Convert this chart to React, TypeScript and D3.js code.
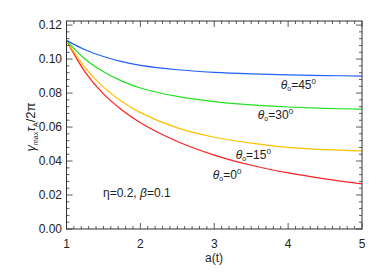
import React from "react";
import * as d3 from "d3";

const aValues = [1, 1.25, 1.5, 1.75, 2, 2.5, 3, 3.5, 4, 4.5, 5];
const theta0 = [0.111, 0.0925, 0.0795, 0.07, 0.0625, 0.0515, 0.0435, 0.0375, 0.033, 0.0295, 0.0265];
const theta15 = [0.111, 0.095, 0.0835, 0.075, 0.0685, 0.0595, 0.054, 0.0505, 0.048, 0.0467, 0.046];
const theta30 = [0.111, 0.1, 0.0925, 0.087, 0.083, 0.078, 0.075, 0.073, 0.0718, 0.071, 0.0705];
const theta45 = [0.111, 0.1055, 0.1015, 0.0985, 0.0963, 0.0937, 0.0922, 0.0913, 0.0907, 0.0903, 0.09];
const xTicks = [1, 2, 3, 4, 5];
const yTicks = [0, 0.02, 0.04, 0.06, 0.08, 0.1, 0.12];
const seriesLabels = ["0", "15", "30", "45"];
const labelAnchors = [2.98, 3.29, 3.59, 3.9];
const labelValues = [0.0294, 0.0412, 0.0647, 0.0824];

const colors = ["#ff2020", "#ffc000", "#22e022", "#2060ff"];

export default function App() {
  const W = 382, H = 273;
  const L = 66.5, R = 362, T = 21, B = 229;
  const x = d3.scaleLinear().domain([1, 5]).range([L, R]);
  const y = d3.scaleLinear().domain([0, 0.1224]).range([B, T]);
  const series = [theta0, theta15, theta30, theta45];
  const line = d3
    .line<number>()
    .x((_, i) => x(aValues[i]))
    .y((d) => y(d))
    .curve(d3.curveCatmullRom.alpha(0.5));

  const xMinor = d3.range(1, 5.0001, 0.1);
  const yMinor = d3.range(0, 0.1224, 0.004);
  const font = "'Liberation Sans', Arial, sans-serif";
  const axisColor = "#333";

  return (
    <svg width={W} height={H} style={{ position: "absolute", left: 0, top: 0 }} fontFamily={font}>
      <rect x={0} y={0} width={W} height={H} fill="#fff" />
      {series.map((s, k) => (
        <path key={k} d={line(s) || ""} fill="none" stroke={colors[k]} strokeWidth={1.2} />
      ))}
      <rect x={L} y={T} width={R - L} height={B - T} fill="none" stroke={axisColor} strokeWidth={1} />
      {xMinor.map((v, i) => {
        const major = Math.abs(v - Math.round(v)) < 1e-6;
        const len = major ? 6 : 3;
        return (
          <g key={"xm" + i} stroke={axisColor} strokeWidth={0.8}>
            <line x1={x(v)} x2={x(v)} y1={B} y2={B - len} />
            <line x1={x(v)} x2={x(v)} y1={T} y2={T + len} />
          </g>
        );
      })}
      {yMinor.map((v, i) => {
        const major = i % 5 === 0;
        const len = major ? 6 : 3;
        return (
          <g key={"ym" + i} stroke={axisColor} strokeWidth={0.8}>
            <line x1={L} x2={L + len} y1={y(v)} y2={y(v)} />
            <line x1={R} x2={R - len} y1={y(v)} y2={y(v)} />
          </g>
        );
      })}
      {xTicks.map((v) => (
        <text key={"xt" + v} x={x(v)} y={248} fontSize={12} textAnchor="middle" fill="#222">
          {v}
        </text>
      ))}
      {yTicks.map((v) => (
        <text key={"yt" + v} x={62} y={y(v) + 4.3} fontSize={12} textAnchor="end" fill="#222">
          {v.toFixed(2)}
        </text>
      ))}
      <text x={214} y={262} fontSize={12} textAnchor="middle" fill="#222">
        a(t)
      </text>
      <text transform={`translate(35,${(T + B) / 2 + 2}) rotate(-90)`} fontSize={13} textAnchor="middle" fill="#222">
        <tspan fontStyle="italic">γ</tspan>
        <tspan fontSize={7} dy={3}>max</tspan>
        <tspan dy={-3} fontStyle="italic">τ</tspan>
        <tspan fontSize={7} dy={3}>A</tspan>
        <tspan dy={-3}>/2π</tspan>
      </text>
      <text x={103} y={197} fontSize={12} fill="#222">
        η=0.2,  <tspan fontStyle="italic">β</tspan>=0.1
      </text>
      {seriesLabels.map((s, k) => (
        <text key={"sl" + k} x={x(labelAnchors[k])} y={y(labelValues[k])} fontSize={12} fill="#222">
          <tspan fontStyle="italic">θ</tspan>
          <tspan fontSize={7} dy={2}>o</tspan>
          <tspan dy={-2}>={s}</tspan>
          <tspan fontSize={8} dy={-5}>0</tspan>
        </text>
      ))}
    </svg>
  );
}
